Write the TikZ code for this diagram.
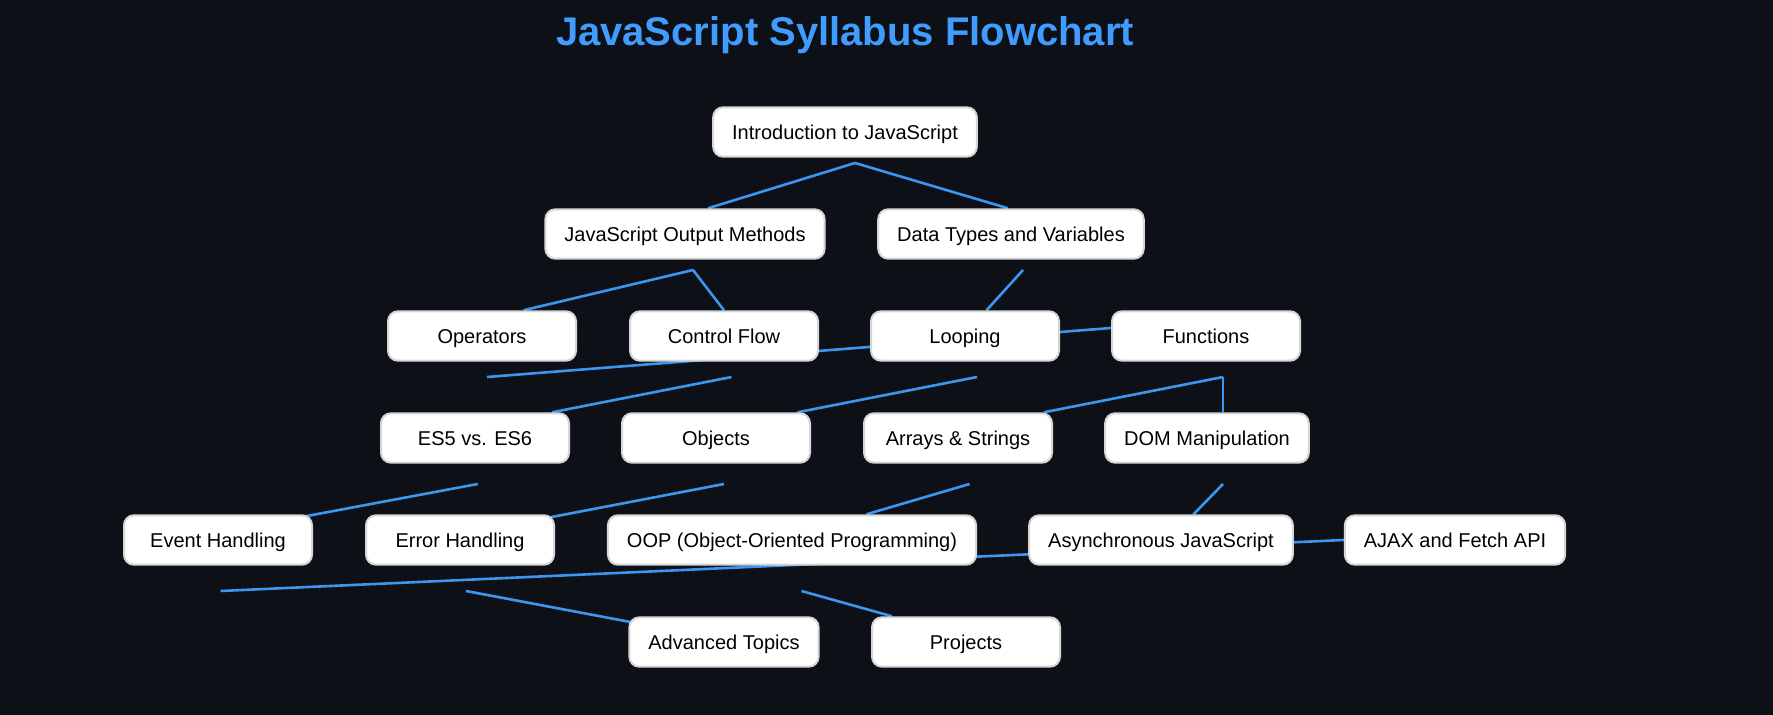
\documentclass[tikz,border=0pt]{standalone}
\usepackage{fontspec}
\setmainfont{Liberation Sans}
\usetikzlibrary{calc,backgrounds}
\definecolor{bgdark}{RGB}{13,17,23}
\definecolor{linkblue}{RGB}{59,150,240}
\definecolor{titleblue}{RGB}{64,156,255}
\definecolor{boxgray}{RGB}{214,214,214}
\tikzstyle{topic}=[rectangle,rounded corners=5pt,draw=boxgray,line width=1pt,fill=white,text=black,inner xsep=9.5pt,text height=7.2pt,text depth=0pt,minimum width=94pt,minimum height=24.7pt,font=\fontsize{10pt}{12pt}\selectfont]
\tikzstyle{link}=[linkblue,line width=1.3pt]
\newcommand{\drawedges}[2][\empty]{
	\foreach \a/\b in {#2}{
		\draw[#1] (\a) -- (\b);
	}
}

\begin{document}
\begin{tikzpicture}[x=0.5pt,y=-0.5pt]
\useasboundingbox (0,0) rectangle (1773,715);
\node[font=\fontsize{20pt}{24pt}\selectfont\bfseries,text=titleblue,anchor=base,inner sep=0pt] (title) at (845,46) {JavaScript Syllabus Flowchart};

% rows of topics
\node[topic] (intro) at (845,132) {Introduction to JavaScript};

\node[topic] (jsout) at (685,234) {JavaScript Output Methods};
\node[topic] (types) at (1011,234) {Data Types and Variables};

\node[topic] (ops) at (482,336) {Operators};
\node[topic] (ctrl) at (724,336) {Control Flow};
\node[topic] (loop) at (965,336) {Looping};
\node[topic] (func) at (1206,336) {Functions};

\node[topic] (es) at (475,438) {ES5 vs. ES6};
\node[topic] (obj) at (716,438) {Objects};
\node[topic] (arr) at (958,438) {Arrays \& Strings};
\node[topic] (dom) at (1207,438) {DOM Manipulation};

\node[topic] (event) at (218,540) {Event Handling};
\node[topic] (err) at (460,540) {Error Handling};
\node[topic] (oop) at (792,540) {OOP (Object-Oriented Programming)};
\node[topic] (async) at (1161,540) {Asynchronous JavaScript};
\node[topic] (ajax) at (1455,540) {AJAX and Fetch API};

\node[topic] (adv) at (724,642) {Advanced Topics};
\node[topic] (proj) at (966,642) {Projects};

% loose ends of the links
\coordinate (a1) at (855,163);
\coordinate (a2) at (693,270);
\coordinate (a3) at (1023,270);
\coordinate (a4) at (487,377);
\coordinate (a5) at (731.5,377);
\coordinate (a6) at (977,377);
\coordinate (a7) at (1223,377);
\coordinate (a8) at (477.7,484);
\coordinate (a9) at (724,484);
\coordinate (a10) at (969.6,484);
\coordinate (a11) at (1223,484);
\coordinate (a12) at (220.5,591);
\coordinate (a13) at (466,591);
\coordinate (a14) at (801.5,591);

% where they meet the boxes
\coordinate (t1) at ($(jsout.north)+(23,0)$);
\coordinate (t2) at ($(types.north)+(-3,0)$);
\coordinate (t3) at ($(ops.north)+(41.5,0)$);
\coordinate (t4) at (ctrl.north);
\coordinate (t5) at ($(loop.north)+(21.5,0)$);
\coordinate (t6) at ($(func.west)+(0,-8)$);
\coordinate (t7) at ($(es.north)+(77,0)$);
\coordinate (t8) at ($(obj.north)+(81.5,0)$);
\coordinate (t9) at ($(arr.north)+(86,0)$);
\coordinate (t10) at (a7 |- dom.north);
\coordinate (t11) at ($(event.north east)+(-13,3)$);
\coordinate (t12) at ($(err.north east)+(-10,4)$);
\coordinate (t13) at ($(oop.north)+(74.5,0)$);
\coordinate (t14) at ($(async.north)+(32.5,0)$);
\coordinate (t15) at (ajax.west);
\coordinate (t16) at ($(adv.north west)+(11,7.4)$);
\coordinate (t17) at ($(proj.north)+(-74,0)$);

\begin{scope}[on background layer]
\fill[bgdark] (0,0) rectangle (1773,715);
\drawedges[link]{a1/t1,a1/t2,a2/t3,a2/t4,a3/t5,a4/t6,a5/t7,a6/t8,a7/t9,a7/t10,a8/t11,a9/t12,a10/t13,a11/t14,a12/t15,a13/t16,a14/t17}
\end{scope}
\end{tikzpicture}
\end{document}
